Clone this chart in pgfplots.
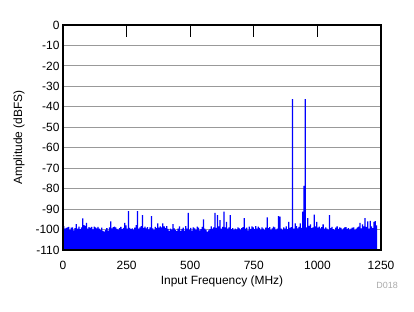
\documentclass[border=0pt]{standalone}
\usepackage{fontspec}
\setmainfont{Liberation Sans}
\usepackage{pgfplots}
\pgfplotsset{compat=1.18}
\definecolor{gridgray}{RGB}{153,153,153}
\definecolor{specblue}{RGB}{0,0,255}
\definecolor{notegray}{RGB}{170,170,170}
\begin{document}
\begin{tikzpicture}
\path[use as bounding box] (-63bp,-62bp) rectangle (351bp,250bp);
\begin{axis}[
  at={(0,0)}, anchor=south west,
  scale only axis, width=318bp, height=225bp,
  xmin=0, xmax=1250, ymin=-110, ymax=0,
  xtick={0,250,500,750,1000,1250},
  ytick={-110,-100,...,0},
  /pgf/number format/assume math mode=true,
  /pgf/number format/1000 sep={},
  ticklabel style={font=\fontsize{12}{14}\selectfont},
  label style={font=\fontsize{12}{14}\selectfont},
  xticklabel style={yshift=-8bp},
  xlabel={Input Frequency (MHz)},
  ylabel={Amplitude (dBFS)},
  xlabel style={yshift=1bp},
  ylabel style={yshift=4bp},
  ymajorgrids,
  grid style={gridgray, line width=1bp},
  tick align=inside,
  major tick length=11.7bp,
  xtick style={black, line width=0.9bp},
  ytick style={draw=none},
  axis line style={black, line width=1.7bp},
  clip mode=individual,
]
\addplot[const plot, fill=specblue, draw=none] coordinates {
(0,-110)
(0,-98.3) (5,-99.6) (10,-99.2) (15,-99.0) (20,-98.7) (25,-100.2) (30,-99.1) (35,-98.9) (40,-100.4) (45,-99.3)
(50,-97.3) (55,-99.5) (60,-98.6) (65,-99.8) (70,-98.9) (75,-94.5) (80,-97.8) (85,-98.2) (90,-96.7) (95,-99.6)
(100,-98.8) (105,-99.2) (110,-98.7) (115,-99.9) (120,-98.6) (125,-98.9) (130,-99.4) (135,-98.7) (140,-99.6) (145,-100.3)
(150,-99.1) (155,-100.6) (160,-101.0) (165,-100.2) (170,-99.3) (175,-100.5) (180,-99.0) (185,-96.0) (190,-99.4) (195,-98.8)
(200,-98.6) (205,-98.9) (210,-99.7) (215,-100.1) (220,-99.3) (225,-98.7) (230,-99.8) (235,-99.2) (240,-96.7) (245,-98.0)
(250,-99.5) (255,-91.0) (260,-99.2) (265,-99.8) (270,-99.4) (275,-100.0) (280,-99.1) (285,-97.8) (290,-91.0) (295,-99.6)
(300,-99.0) (305,-98.3) (310,-93.0) (315,-99.2) (320,-98.6) (325,-99.4) (330,-98.8) (335,-99.9) (340,-98.9) (345,-93.5)
(350,-99.4) (355,-100.2) (360,-98.7) (365,-99.3) (370,-97.0) (375,-99.1) (380,-98.4) (385,-99.0) (390,-97.0) (395,-98.5)
(400,-99.2) (405,-98.3) (410,-99.7) (415,-100.6) (420,-99.5) (425,-100.1) (430,-97.3) (435,-99.4) (440,-100.3) (445,-100.8)
(450,-99.5) (455,-98.5) (460,-100.6) (465,-99.7) (470,-99.1) (475,-100.5) (480,-98.3) (485,-99.6) (490,-91.8) (495,-100.0)
(500,-99.2) (505,-100.5) (510,-98.9) (515,-99.4) (520,-100.2) (525,-98.6) (530,-99.1) (535,-100.4) (540,-99.8) (545,-98.7)
(550,-95.0) (555,-99.5) (560,-100.2) (565,-101.0) (570,-100.4) (575,-99.8) (580,-98.5) (585,-99.6) (590,-99.0) (595,-91.8)
(600,-99.2) (605,-93.0) (610,-98.4) (615,-95.4) (620,-99.6) (625,-98.7) (630,-91.3) (635,-99.0) (640,-96.2) (645,-99.5)
(650,-98.9) (655,-93.0) (660,-99.8) (665,-99.3) (670,-100.2) (675,-99.5) (680,-99.9) (685,-99.0) (690,-99.4) (695,-100.1)
(700,-99.3) (705,-98.8) (710,-94.4) (715,-99.6) (720,-99.1) (725,-100.4) (730,-98.6) (735,-99.7) (740,-98.5) (745,-99.0)
(750,-99.8) (755,-98.3) (760,-99.5) (765,-98.6) (770,-99.2) (775,-100.0) (780,-98.9) (785,-99.6) (790,-100.3) (795,-99.1)
(800,-94.0) (805,-99.3) (810,-98.8) (815,-100.2) (820,-99.4) (825,-98.6) (830,-99.0) (835,-100.1) (840,-99.5) (845,-93.4)
(850,-93.7) (855,-99.5) (860,-100.2) (865,-99.0) (870,-99.6) (875,-98.4) (880,-99.8) (885,-96.3) (890,-99.2) (895,-98.8)
(900,-36.3) (905,-99.5) (910,-97.0) (915,-98.3) (920,-99.4) (925,-98.7) (930,-97.0) (935,-99.2) (940,-91.3) (945,-78.7)
(950,-36.3) (955,-99.0) (960,-94.4) (965,-98.2) (970,-97.5) (975,-99.3) (980,-99.0) (985,-92.7) (990,-98.4) (995,-96.2)
(1000,-99.1) (1005,-98.6) (1010,-99.4) (1015,-98.8) (1020,-97.5) (1025,-99.6) (1030,-98.9) (1035,-99.5) (1040,-100.0) (1045,-93.0)
(1050,-99.3) (1055,-98.7) (1060,-99.8) (1065,-100.3) (1070,-99.1) (1075,-98.4) (1080,-99.7) (1085,-98.9) (1090,-99.2) (1095,-100.1)
(1100,-99.4) (1105,-99.0) (1110,-98.8) (1115,-99.7) (1120,-99.3) (1125,-100.0) (1130,-99.5) (1135,-99.1) (1140,-98.9) (1145,-100.2)
(1150,-99.6) (1155,-99.0) (1160,-98.6) (1165,-96.8) (1170,-99.4) (1175,-97.5) (1180,-98.4) (1185,-94.4) (1190,-98.7) (1195,-96.0)
(1200,-99.6) (1205,-95.8) (1210,-98.5) (1215,-99.3) (1220,-96.2) (1225,-95.9) (1230,-98.0)
(1235,-110)
} -- cycle;
\draw[black, line width=1.7bp] (rel axis cs:0,0) rectangle (rel axis cs:1,1);
\node[font=\fontsize{9}{10}\selectfont, text=notegray] at (rel axis cs:1.019,-0.159) {D018};
\end{axis}
\end{tikzpicture}
\end{document}
